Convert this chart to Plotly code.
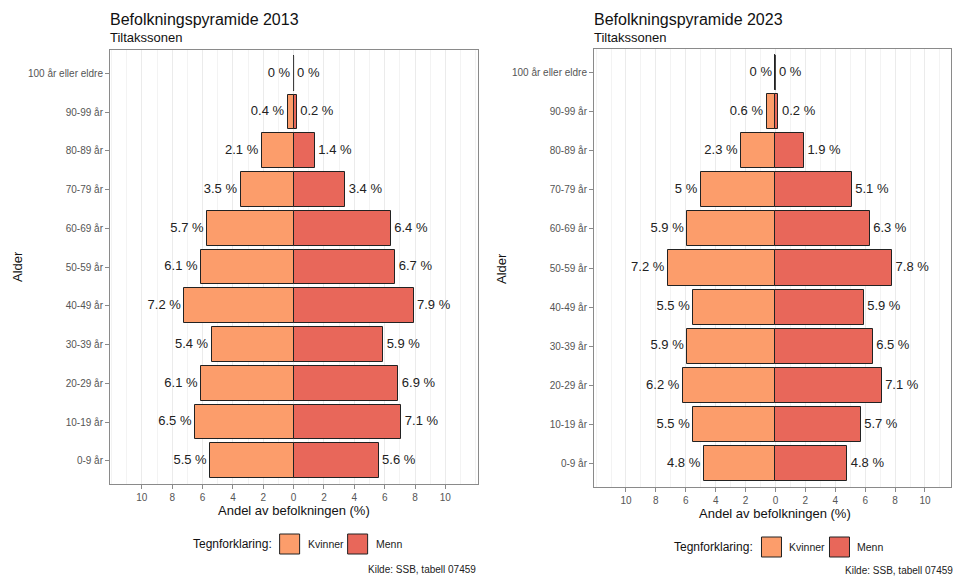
import plotly.graph_objects as go

W, H = 956, 576

age_groups = ["0-9 år", "10-19 år", "20-29 år", "30-39 år", "40-49 år", "50-59 år",
              "60-69 år", "70-79 år", "80-89 år", "90-99 år", "100 år eller eldre"]

kvinner_2013 = [5.5, 6.5, 6.1, 5.4, 7.2, 6.1, 5.7, 3.5, 2.1, 0.4, 0]
menn_2013 = [5.6, 7.1, 6.9, 5.9, 7.9, 6.7, 6.4, 3.4, 1.4, 0.2, 0]
kvinner_2023 = [4.8, 5.5, 6.2, 5.9, 5.5, 7.2, 5.9, 5.0, 2.3, 0.6, 0]
menn_2023 = [4.8, 5.7, 7.1, 6.5, 5.9, 7.8, 6.3, 5.1, 1.9, 0.2, 0]

x_ticks = [-10, -8, -6, -4, -2, 0, 2, 4, 6, 8, 10]
x_ticklabels = [str(abs(t)) for t in x_ticks]
minor_ticks = [-12, -11, -9, -7, -5, -3, -1, 1, 3, 5, 7, 9, 11, 12]

titles = ["Befolkningspyramide 2013", "Befolkningspyramide 2023"]
subtitle = "Tiltakssonen"
x_title = "Andel av befolkningen (%)"
y_title = "Alder"
legend_title = "Tegnforklaring:"
series_names = ["Kvinner", "Menn"]
source = "Kilde: SSB, tabell 07459"

C_K = "#FC9D6B"
C_M = "#E8675A"
EDGE = "#222222"
FONT = "Liberation Sans, Arial, sans-serif"

panels = [
    dict(k=kvinner_2013, m=menn_2013, x0=110, x1=478, y0=50, y1=484, xr=[-12.1, 12.15]),
    dict(k=kvinner_2023, m=menn_2023, x0=594, x1=951, y0=49, y1=487, xr=[-12.14, 11.74]),
]

def px(x):
    return x / W

def py(y):
    return 1 - y / H

fig = go.Figure()
ypos = list(range(len(age_groups)))
annotations = []
shapes = []

for pi, p in enumerate(panels):
    xa = "x" if pi == 0 else "x2"
    ya = "y" if pi == 0 else "y2"
    fig.add_trace(go.Bar(
        y=ypos, x=[-v for v in p["k"]], orientation="h", width=0.9,
        marker=dict(color=C_K, line=dict(color=EDGE, width=1)),
        xaxis=xa, yaxis=ya, showlegend=False, hoverinfo="skip"))
    fig.add_trace(go.Bar(
        y=ypos, x=p["m"], orientation="h", width=0.9,
        marker=dict(color=C_M, line=dict(color=EDGE, width=1)),
        xaxis=xa, yaxis=ya, showlegend=False, hoverinfo="skip"))
    # zero-width bars drawn as a vertical outline
    zx, zy = [], []
    for i, (kv, mv) in enumerate(zip(p["k"], p["m"])):
        if kv == 0 or mv == 0:
            zx += [0, 0, None]
            zy += [i - 0.45, i + 0.45, None]
    fig.add_trace(go.Scatter(x=zx, y=zy, mode="lines", line=dict(color="#444444", width=1),
                             xaxis=xa, yaxis=ya, showlegend=False, hoverinfo="skip"))
    fig.add_trace(go.Scatter(
        x=[-v for v in p["k"]], y=ypos, mode="markers+text",
        marker=dict(size=4, opacity=0),
        text=[f"{v:g} %" for v in p["k"]], textposition="middle left",
        textfont=dict(family=FONT, size=13, color="#222222"),
        xaxis=xa, yaxis=ya, showlegend=False, hoverinfo="skip"))
    fig.add_trace(go.Scatter(
        x=p["m"], y=ypos, mode="markers+text",
        marker=dict(size=4, opacity=0),
        text=[f"{v:g} %" for v in p["m"]], textposition="middle right",
        textfont=dict(family=FONT, size=13, color="#222222"),
        xaxis=xa, yaxis=ya, showlegend=False, hoverinfo="skip"))

    axis_common = dict(showline=True, linecolor="#8a8a8a", linewidth=1, mirror=True,
                       ticks="outside", ticklen=4, tickcolor="#8a8a8a", tickwidth=1,
                       tickfont=dict(family=FONT, size=10, color="#555555"),
                       zeroline=False, fixedrange=True)
    xaxis = dict(axis_common, domain=[px(p["x0"]), px(p["x1"])], range=p["xr"],
                 tickmode="array", tickvals=x_ticks, ticktext=x_ticklabels,
                 showgrid=True, gridcolor="#EBEBEB", gridwidth=1,
                 minor=dict(tickmode="array", tickvals=minor_ticks, showgrid=True,
                            gridcolor="#F3F3F3", gridwidth=1, ticks=""),
                 anchor=ya)
    yaxis = dict(axis_common, domain=[py(p["y1"]), py(p["y0"])], range=[-0.6, 10.6],
                 tickmode="array", tickvals=ypos, ticktext=age_groups,
                 showgrid=False, anchor=xa)
    if pi == 0:
        fig.update_layout(xaxis=xaxis, yaxis=yaxis)
    else:
        fig.update_layout(xaxis2=xaxis, yaxis2=yaxis)

    zero_px = p["x0"] + (0 - p["xr"][0]) / (p["xr"][1] - p["xr"][0]) * (p["x1"] - p["x0"])
    # titles
    annotations.append(dict(x=px(p["x0"] - 2), y=py(19), xref="paper", yref="paper",
                            text=titles[pi], showarrow=False, xanchor="left", yanchor="middle",
                            font=dict(family=FONT, size=16, color="#111111")))
    annotations.append(dict(x=px(p["x0"] - 2), y=py(37), xref="paper", yref="paper",
                            text=subtitle, showarrow=False, xanchor="left", yanchor="middle",
                            font=dict(family=FONT, size=13, color="#111111")))
    # axis titles
    annotations.append(dict(x=px(zero_px), y=py(p["y1"] + 26), xref="paper", yref="paper",
                            text=x_title, showarrow=False, xanchor="center", yanchor="middle",
                            font=dict(family=FONT, size=13, color="#111111")))
    annotations.append(dict(x=px(p["x0"] - 93), y=py((p["y0"] + p["y1"]) / 2), xref="paper",
                            yref="paper", text=y_title, showarrow=False, textangle=-90,
                            xanchor="center", yanchor="middle",
                            font=dict(family=FONT, size=13, color="#111111")))
    # legend
    ly = p["y1"] + 60
    lx = zero_px - 103
    annotations.append(dict(x=px(lx), y=py(ly), xref="paper", yref="paper",
                            text=legend_title, showarrow=False, xanchor="left", yanchor="middle",
                            font=dict(family=FONT, size=12, color="#111111")))
    bx = lx + 89
    for name, col, w in zip(series_names, [C_K, C_M], [68, 0]):
        shapes.append(dict(type="rect", xref="paper", yref="paper",
                           x0=px(bx), x1=px(bx + 20), y0=py(ly - 10), y1=py(ly + 10),
                           fillcolor=col, line=dict(color=EDGE, width=1)))
        annotations.append(dict(x=px(bx + 26), y=py(ly), xref="paper", yref="paper",
                                text=name, showarrow=False, xanchor="left", yanchor="middle",
                                font=dict(family=FONT, size=10.5, color="#222222")))
        bx += w
    annotations.append(dict(x=px(p["x1"] + (0 if pi == 0 else 4)), y=py(569 if pi == 0 else 570),
                            xref="paper", yref="paper", text=source, showarrow=False,
                            xanchor="right", yanchor="middle",
                            font=dict(family=FONT, size=10, color="#222222")))

fig.update_layout(
    width=W, height=H, margin=dict(l=0, r=0, t=0, b=0),
    paper_bgcolor="white", plot_bgcolor="white",
    barmode="overlay", bargap=0, showlegend=False,
    annotations=annotations, shapes=shapes,
    font=dict(family=FONT),
)

fig.write_html("out.html", config={"displayModeBar": False},
               post_script="document.body.style.margin='0';document.body.style.padding='0';")
